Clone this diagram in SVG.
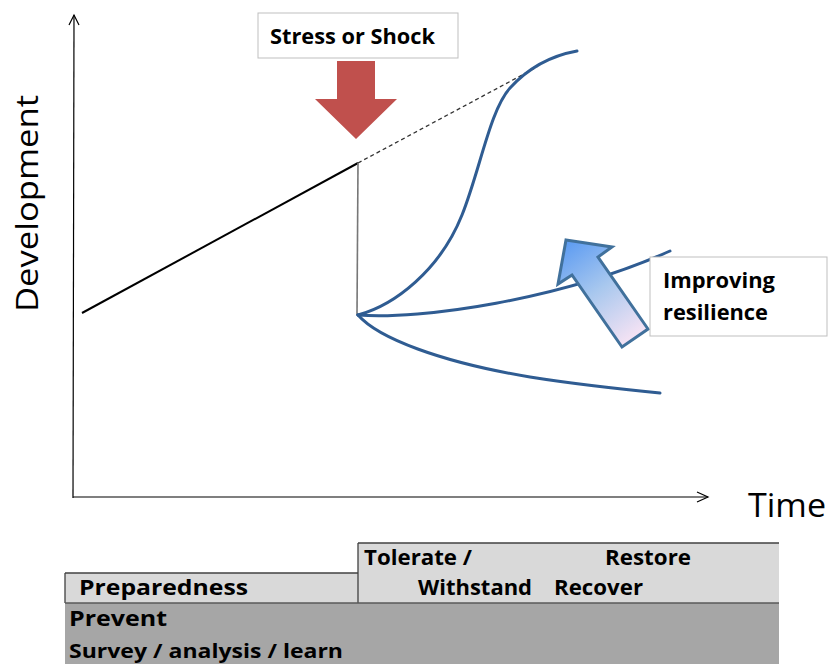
<svg xmlns="http://www.w3.org/2000/svg" width="830" height="664" viewBox="0 0 830 664">
<defs>
<style>
.lbl{font-family:"Open Sans","Liberation Sans",sans-serif;font-weight:bold;fill:#000}
.ax{font-family:"Open Sans","Liberation Sans",sans-serif;fill:#000}
.axis{stroke:#000;stroke-width:1.2;fill:none}
.curve{stroke:#2F5C92;stroke-width:3;fill:none;stroke-linecap:round}
.box{fill:#fff;stroke:#BFBFBF;stroke-width:1}
.rule{stroke:#404040;stroke-width:1.3}
</style>
<linearGradient id="gBlue" gradientUnits="userSpaceOnUse" x1="566" y1="240" x2="635" y2="338">
<stop offset="0" stop-color="#5A9AF2"/>
<stop offset="0.5" stop-color="#A9C8EE"/>
<stop offset="1" stop-color="#F6E3F4"/>
</linearGradient>
</defs>
<rect width="830" height="664" fill="#fff"/>

<g id="axes">
<line class="axis" x1="73" y1="498" x2="74" y2="15"/>
<polyline class="axis" points="69,25 74,15 79,25"/>
<line class="axis" x1="73" y1="497" x2="708" y2="497"/>
<polyline class="axis" points="697,492 708,497 697,502"/>
<text class="ax" font-size="31" transform="translate(38,312) rotate(-90)" textLength="217" lengthAdjust="spacingAndGlyphs">Development</text>
<text class="ax" x="748" y="517" font-size="32" textLength="78" lengthAdjust="spacingAndGlyphs">Time</text>
</g>

<g id="connectors">
<line x1="82" y1="313" x2="358" y2="163" stroke="#000" stroke-width="2"/>
<line x1="358" y1="163" x2="537" y2="67" stroke="#333" stroke-width="1.3" stroke-dasharray="4,3"/>
<line x1="358" y1="163" x2="357" y2="315" stroke="#777" stroke-width="1.6"/>
<path class="curve" d="M358,315 C395,305 440,270 462,215 C480,170 490,110 510,88 C530,66 555,55 577,51"/>
<path class="curve" d="M358,315 C420,320 560,300 670,251"/>
<path class="curve" d="M358,315 C378,338 440,362 530,377 C580,385 620,389 660,393"/>
</g>

<g id="stress">
<rect class="box" x="258" y="13" width="200" height="45"/>
<text class="lbl" x="270" y="44" font-size="22" textLength="165" lengthAdjust="spacingAndGlyphs">Stress or Shock</text>
<polygon points="337,61 375,61 375,99 397,99 356,139 315,99 337,99" fill="#C0504D"/>
</g>

<g id="resilience">
<polygon points="566,240 612,247 598,257 648,329 622,347 572,275 558,284" fill="url(#gBlue)" stroke="#41719C" stroke-width="3" stroke-linejoin="miter"/>
<rect class="box" x="650" y="257" width="177" height="79"/>
<text class="lbl" x="663" y="288" font-size="22" textLength="112" lengthAdjust="spacingAndGlyphs">Improving</text>
<text class="lbl" x="663" y="320" font-size="22" textLength="105" lengthAdjust="spacingAndGlyphs">resilience</text>
</g>

<g id="phases">
<rect x="65" y="603" width="714" height="62" fill="#A6A6A6"/>
<rect x="358" y="543" width="421" height="60" fill="#D9D9D9"/>
<rect x="65" y="573" width="293" height="30" fill="#D9D9D9"/>
<line class="rule" x1="358" y1="543" x2="779" y2="543"/>
<line class="rule" x1="358" y1="543" x2="358" y2="603"/>
<line class="rule" x1="65" y1="573" x2="358" y2="573"/>
<line class="rule" x1="65" y1="573" x2="65" y2="603"/>
<line x1="65" y1="603" x2="779" y2="603" stroke="#595959" stroke-width="1.5"/>
<text class="lbl" x="364" y="565" font-size="21" textLength="108" lengthAdjust="spacingAndGlyphs">Tolerate /</text>
<text class="lbl" x="605" y="565" font-size="21" textLength="86" lengthAdjust="spacingAndGlyphs">Restore</text>
<text class="lbl" x="418" y="595" font-size="21" textLength="114" lengthAdjust="spacingAndGlyphs">Withstand</text>
<text class="lbl" x="554" y="595" font-size="21" textLength="89" lengthAdjust="spacingAndGlyphs">Recover</text>
<text class="lbl" x="79" y="595" font-size="21" textLength="169" lengthAdjust="spacingAndGlyphs">Preparedness</text>
<text class="lbl" x="69" y="626" font-size="21" textLength="98" lengthAdjust="spacingAndGlyphs">Prevent</text>
<text class="lbl" x="69" y="658" font-size="19" textLength="274" lengthAdjust="spacingAndGlyphs">Survey / analysis / learn</text>
</g>
</svg>
